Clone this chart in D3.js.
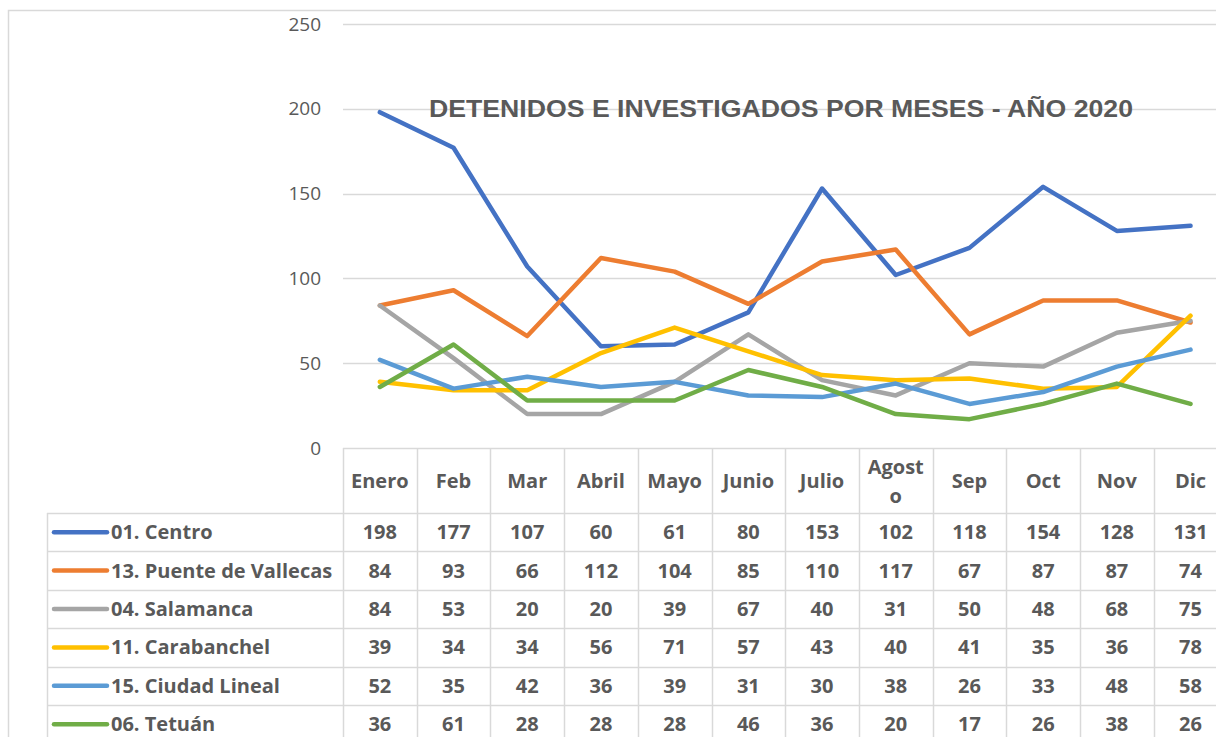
<!DOCTYPE html>
<html>
<head>
<meta charset="utf-8">
<script src="https://cdn.jsdelivr.net/npm/d3@7"></script>
<style>
  body { margin: 0; background: #fff; }
  svg { display: block; }
  .tick-label { font-family: "Open Sans", "Noto Sans", sans-serif; font-size: 19px; fill: #595959; }
  .cell { font-family: "Open Sans", "Noto Sans", sans-serif; font-size: 20px; font-weight: bold; fill: #595959; }
</style>
</head>
<body>
<div id="chart"></div>
<script>
const months = ["Enero", "Feb", "Mar", "Abril", "Mayo", "Junio", "Julio", "Agosto", "Sep", "Oct", "Nov", "Dic"];
const seriesNames = ["01. Centro", "13. Puente de Vallecas", "04. Salamanca", "11. Carabanchel", "15. Ciudad Lineal", "06. Tetuán"];
const centro = [198, 177, 107, 60, 61, 80, 153, 102, 118, 154, 128, 131];
const vallecas = [84, 93, 66, 112, 104, 85, 110, 117, 67, 87, 87, 74];
const salamanca = [84, 53, 20, 20, 39, 67, 40, 31, 50, 48, 68, 75];
const carabanchel = [39, 34, 34, 56, 71, 57, 43, 40, 41, 35, 36, 78];
const ciudadLineal = [52, 35, 42, 36, 39, 31, 30, 38, 26, 33, 48, 58];
const tetuan = [36, 61, 28, 28, 28, 46, 36, 20, 17, 26, 38, 26];
const colors = ["#4472C4", "#ED7D31", "#A5A5A5", "#FFC000", "#5B9BD5", "#70AD47"];
const yTicks = [0, 50, 100, 150, 200, 250];
const title = "DETENIDOS E INVESTIGADOS POR MESES - AÑO 2020";

const series = [centro, vallecas, salamanca, carabanchel, ciudadLineal, tetuan].map((values, i) => ({
  name: seriesNames[i],
  color: colors[i],
  values,
}));

const width = 1216;
const height = 737;
const plotLeft = 343;
const colW = 73.7;
const plotTop = 24;
const plotBottom = 448;
const headerH = 65;
const rowH = 38.4;
const labelLeft = 47;

const svg = d3.select("#chart").append("svg").attr("width", width).attr("height", height);

// outer chart frame
svg.append("path")
  .attr("d", `M8.5,${height} V10.5 H${width}`)
  .attr("fill", "none")
  .attr("stroke", "#d9d9d9")
  .attr("stroke-width", 1.5);

const x = d3.scaleBand().domain(months).range([plotLeft, plotLeft + colW * months.length]);
const y = d3.scaleLinear().domain([0, 250]).range([plotBottom, plotTop]);

// gridlines
svg.append("g")
  .selectAll("line")
  .data(yTicks.filter((d) => d > 0))
  .join("line")
  .attr("x1", plotLeft)
  .attr("x2", width)
  .attr("y1", (d) => Math.round(y(d)) + 0.5)
  .attr("y2", (d) => Math.round(y(d)) + 0.5)
  .attr("stroke", "#d9d9d9")
  .attr("stroke-width", 1.5);

svg.append("g")
  .selectAll("text")
  .data(yTicks)
  .join("text")
  .attr("class", "tick-label")
  .attr("x", 321)
  .attr("y", (d) => y(d))
  .attr("dy", "0.35em")
  .attr("text-anchor", "end")
  .text((d) => d);

// title
svg.append("text")
  .attr("x", 781)
  .attr("y", 117)
  .attr("text-anchor", "middle")
  .attr("font-family", "'Liberation Sans', Arial, sans-serif")
  .attr("font-weight", "bold")
  .attr("font-size", 24)
  .attr("fill", "#595959")
  .attr("textLength", 704)
  .attr("lengthAdjust", "spacingAndGlyphs")
  .text(title);

// lines
const line = d3.line()
  .x((d, i) => x(months[i]) + x.bandwidth() / 2)
  .y((d) => y(d));

svg.append("g")
  .selectAll("path")
  .data(series)
  .join("path")
  .attr("d", (d) => line(d.values))
  .attr("fill", "none")
  .attr("stroke", (d) => d.color)
  .attr("stroke-width", 4.5)
  .attr("stroke-linejoin", "round")
  .attr("stroke-linecap", "round");

// data table
const table = svg.append("g");
const gridColor = "#d9d9d9";
const tableBottom = plotBottom + headerH + rowH * series.length;

table.append("line")
  .attr("x1", plotLeft).attr("x2", width)
  .attr("y1", plotBottom + 0.5).attr("y2", plotBottom + 0.5)
  .attr("stroke", gridColor).attr("stroke-width", 1.5);

const vx = [plotLeft].concat(months.map((m) => x(m) + x.bandwidth()));
table.selectAll(".vline")
  .data(vx)
  .join("line")
  .attr("class", "vline")
  .attr("x1", (d) => Math.round(d) + 0.5).attr("x2", (d) => Math.round(d) + 0.5)
  .attr("y1", plotBottom).attr("y2", tableBottom)
  .attr("stroke", gridColor).attr("stroke-width", 1.5);

table.append("line")
  .attr("x1", labelLeft + 0.5).attr("x2", labelLeft + 0.5)
  .attr("y1", plotBottom + headerH).attr("y2", tableBottom)
  .attr("stroke", gridColor).attr("stroke-width", 1.5);

table.selectAll(".hline")
  .data(d3.range(series.length + 1))
  .join("line")
  .attr("class", "hline")
  .attr("x1", labelLeft).attr("x2", width)
  .attr("y1", (i) => Math.round(plotBottom + headerH + i * rowH) + 0.5)
  .attr("y2", (i) => Math.round(plotBottom + headerH + i * rowH) + 0.5)
  .attr("stroke", gridColor).attr("stroke-width", 1.5);

// header labels
const headerMid = plotBottom + headerH / 2;
table.selectAll(".head")
  .data(months)
  .join("text")
  .attr("class", "cell head")
  .attr("text-anchor", "middle")
  .attr("x", (d) => x(d) + x.bandwidth() / 2)
  .each(function (d) {
    const t = d3.select(this);
    if (d === "Agosto") {
      t.append("tspan").attr("x", x(d) + x.bandwidth() / 2).attr("y", headerMid - 14).attr("dy", "0.35em").text("Agost");
      t.append("tspan").attr("x", x(d) + x.bandwidth() / 2).attr("y", headerMid + 15).attr("dy", "0.35em").text("o");
    } else {
      t.attr("y", headerMid).attr("dy", "0.35em").text(d);
    }
  });

// rows
const rows = table.selectAll(".row")
  .data(series)
  .join("g")
  .attr("class", "row")
  .attr("transform", (d, i) => `translate(0,${plotBottom + headerH + rowH * i + rowH / 2})`);

rows.append("line")
  .attr("x1", 54).attr("x2", 107)
  .attr("stroke", (d) => d.color)
  .attr("stroke-width", 4.5)
  .attr("stroke-linecap", "round");

rows.append("text")
  .attr("class", "cell")
  .attr("x", 111)
  .attr("dy", "0.35em")
  .text((d) => d.name);

rows.selectAll(".val")
  .data((d) => d.values)
  .join("text")
  .attr("class", "cell val")
  .attr("text-anchor", "middle")
  .attr("x", (d, i) => x(months[i]) + x.bandwidth() / 2)
  .attr("dy", "0.35em")
  .text((d) => d);
</script>
</body>
</html>
